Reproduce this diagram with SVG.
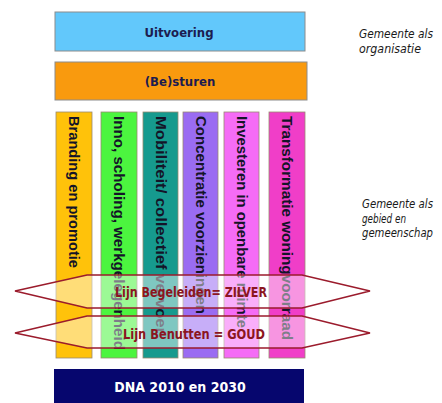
<svg xmlns="http://www.w3.org/2000/svg" width="442" height="403" viewBox="0 0 442 403">
<style>
.box{stroke:#8c8c8c;stroke-width:1}
.col{stroke:#9a8a70;stroke-width:0.8}
.hd{font-family:"DejaVu Sans Condensed","DejaVu Sans",sans-serif;font-weight:bold;font-size:13px;fill:#1c1c50;text-anchor:middle}
.ct{font-family:"Liberation Sans",Arial,sans-serif;font-weight:bold;font-size:14px;fill:#141428}
.side{font-family:"DejaVu Sans Condensed","DejaVu Sans",sans-serif;font-style:italic;font-size:12px;fill:#1a1a1a}
.band{fill:#ffffff;fill-opacity:0.45;stroke:#9b1b2c;stroke-width:1.6;stroke-linejoin:miter}
.lbl{font-family:"DejaVu Sans Condensed","DejaVu Sans",sans-serif;font-weight:bold;font-size:14px;fill:#8b1520}
</style>
<rect width="442" height="403" fill="#ffffff"/>
<g id="uitvoering">
<rect class="box" x="55" y="12" width="250" height="39" fill="#62c8fb"/>
<text class="hd" x="179" y="37">Uitvoering</text>
</g>
<g id="besturen">
<rect class="box" x="55" y="62" width="252" height="38" fill="#f99a0e"/>
<text class="hd" x="180" y="86">(Be)sturen</text>
</g>
<g id="col1">
<rect class="col" x="56" y="112" width="36" height="246" fill="#ffc20a"/>
<text class="ct" transform="translate(74,116) rotate(90)" x="0" y="5" textLength="152" lengthAdjust="spacingAndGlyphs">Branding en promotie</text>
</g>
<g id="col2">
<rect class="col" x="101" y="112" width="36" height="246" fill="#4cf53f"/>
<text class="ct" transform="translate(119,116) rotate(90)" x="0" y="5" textLength="234" lengthAdjust="spacingAndGlyphs">Inno, scholing, werkgelegenheid</text>
</g>
<g id="col3">
<rect class="col" x="143" y="112" width="35" height="246" fill="#169a8e"/>
<text class="ct" transform="translate(160.5,116) rotate(90)" x="0" y="5" textLength="218" lengthAdjust="spacingAndGlyphs">Mobiliteit/ collectief vervoer</text>
</g>
<g id="col4">
<rect class="col" x="183" y="112" width="35" height="246" fill="#9a6cf2"/>
<text class="ct" transform="translate(200.5,116) rotate(90)" x="0" y="5" textLength="198" lengthAdjust="spacingAndGlyphs">Concentratie voorzieningen</text>
</g>
<g id="col5">
<rect class="col" x="224" y="112" width="35" height="246" fill="#f56cf6"/>
<text class="ct" transform="translate(241.5,116) rotate(90)" x="0" y="5" textLength="212" lengthAdjust="spacingAndGlyphs">Investeren in openbare ruimte</text>
</g>
<g id="col6">
<rect class="col" x="269" y="112" width="36" height="246" fill="#f03ec8"/>
<text class="ct" transform="translate(287,116) rotate(90)" x="0" y="5" textLength="224" lengthAdjust="spacingAndGlyphs">Transformatie woningvoorraad</text>
</g>
<g id="dna">
<rect x="54" y="369" width="250" height="40" fill="#06066e"/>
<text class="hd" x="180" y="392" style="fill:#ffffff;font-size:14px">DNA 2010 en 2030</text>
</g>
<g id="side-labels">
<text class="side" x="359" y="38" textLength="74" lengthAdjust="spacingAndGlyphs">Gemeente als</text>
<text class="side" x="359" y="53" textLength="62" lengthAdjust="spacingAndGlyphs">organisatie</text>
<text class="side" x="362" y="208" textLength="71" lengthAdjust="spacingAndGlyphs">Gemeente als</text>
<text class="side" x="362" y="223" textLength="44" lengthAdjust="spacingAndGlyphs">gebied en</text>
<text class="side" x="362" y="237" textLength="71" lengthAdjust="spacingAndGlyphs">gemeenschap</text>
</g>
<g id="lijn-zilver">
<polygon class="band" points="15,291 87,275 302,275 370,291 302,308 87,308"/>
<text class="lbl" x="115" y="297" textLength="152" lengthAdjust="spacingAndGlyphs">Lijn Begeleiden= ZILVER</text>
</g>
<g id="lijn-goud">
<polygon class="band" points="15,333 87,316 302,316 370,333 302,348 87,348"/>
<text class="lbl" x="123" y="339" textLength="142" lengthAdjust="spacingAndGlyphs">Lijn Benutten = GOUD</text>
</g>
</svg>
